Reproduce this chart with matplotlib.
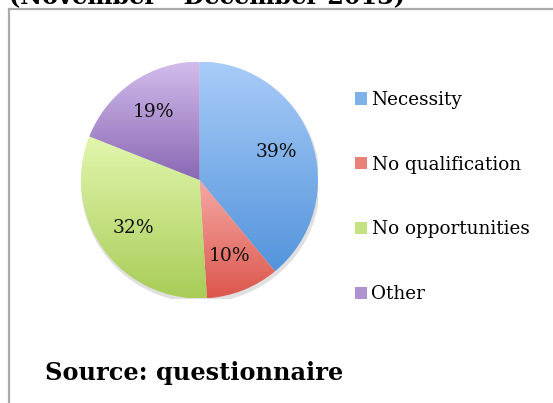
import numpy as np
import matplotlib
matplotlib.use("Agg")
import matplotlib.pyplot as plt
from matplotlib.patches import Patch, Circle
from matplotlib.lines import Line2D
from matplotlib.colors import to_rgb

# reasons given in the questionnaire
labels = ["Necessity", "No qualification", "No opportunities", "Other"]
shares = [39, 10, 32, 19]
# (top, bottom) colour of each slice's vertical gradient
tops = ["#a9ccf8", "#f6aaa5", "#e2f7ae", "#d2bdec"]
bottoms = ["#5394dc", "#dc564c", "#a9cc58", "#8a68b4"]

W, H = 553, 403
fig = plt.figure(figsize=(W / 100, H / 100), dpi=100)
plt.rcParams['font.family'] = ['DejaVu Serif']

def px(x, y):
  return x / W, 1 - y / H

# chart frame (runs off the right and bottom edges)
fig.add_artist(Line2D([9 / W, 9 / W], [0, 1 - 9 / H], color="#aaaaaa", lw=1.6))
fig.add_artist(Line2D([9 / W, 1], [1 - 9 / H, 1 - 9 / H], color="#aaaaaa", lw=1.6))

# title sits mostly above the visible area
fig.text(9 / W, 1 - 3 / H, "(November - December 2013)", fontsize=17.2,
         fontweight="bold", va="baseline", ha="left")

cx, cy, r = 199.5, 180, 118.5
ax = fig.add_axes([(cx - r) / W, (H - cy - r) / H, 2 * r / W, 2 * r / H])
ax.set_axis_off()

ax.add_patch(Circle((0.01, -0.025), 1.01, color="#000000", alpha=0.12, zorder=0, lw=0))

wedges, texts, autotexts = ax.pie(shares, startangle=90, counterclock=False,
                                  radius=1, autopct="%1.0f%%", pctdistance=0.69,
                                  textprops=dict(fontsize=13.5, color="#111111"))
for w, top, bot in zip(wedges, tops, bottoms):
  w.set_facecolor("none")
  w.set_edgecolor("none")
  bb = w.get_path().get_extents()
  grad = np.linspace(0, 1, 256)[:, None, None]
  img = (1 - grad) * np.array(to_rgb(top)) + grad * np.array(to_rgb(bot))
  im = ax.imshow(img, extent=[bb.x0, bb.x1, bb.y0, bb.y1], origin="upper",
                 aspect="auto", zorder=1, interpolation="bilinear")
  im.set_clip_path(w)
for t in autotexts:
  t.set_zorder(3)
ax.set_xlim(-1.0, 1.0)
ax.set_ylim(-1.0, 1.0)

handles = [Patch(facecolor=np.array(to_rgb(t)) * 0.5 + np.array(to_rgb(b)) * 0.5,
                 edgecolor="none") for t, b in zip(tops, bottoms)]
fig.legend(handles, labels, loc="upper left", bbox_to_anchor=px(355, 91),
           frameon=False, fontsize=13.2, labelspacing=2.55, handlelength=0.65,
           handleheight=0.65, handletextpad=0.25, borderpad=0, borderaxespad=0)

fig.text(45 / W, 1 - 380 / H, "Source: questionnaire", fontsize=17.3,
         fontweight="bold", va="baseline", ha="left")

fig.savefig("out.png", dpi=100)
